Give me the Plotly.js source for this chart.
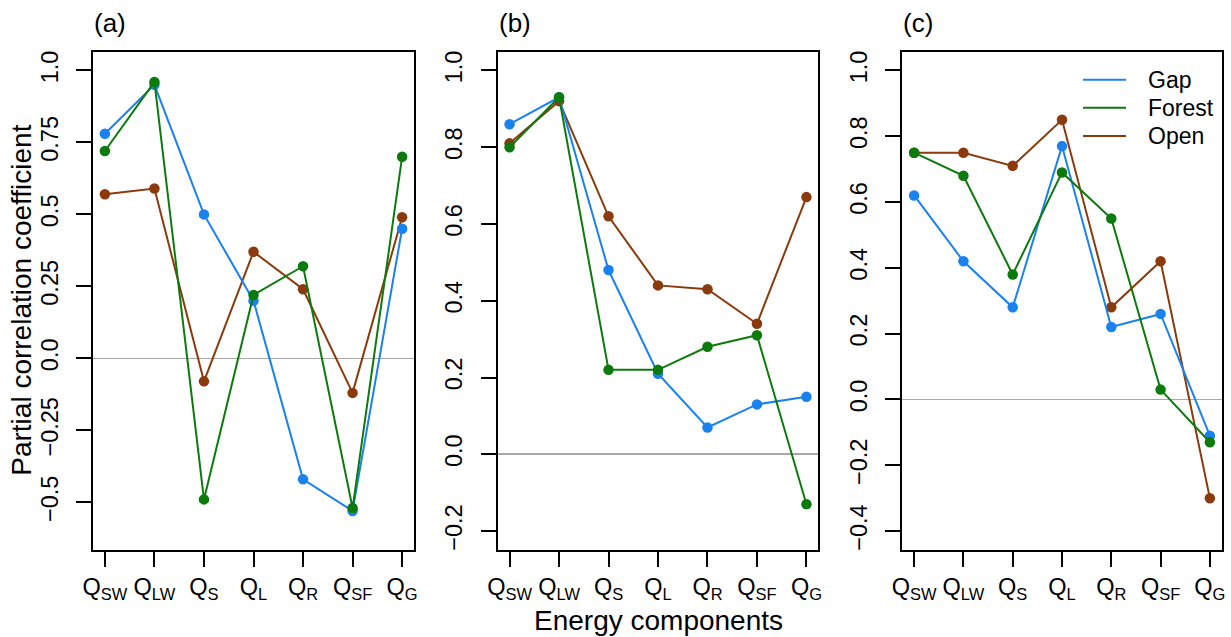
<!DOCTYPE html>
<html>
<head>
<meta charset="utf-8">
<script src="https://cdn.plot.ly/plotly-3.0.1.min.js"></script>
<style>html,body{margin:0;padding:0;background:#fff;}#chart{width:1231px;height:637px;}</style>
</head>
<body>
<div id="chart"></div>
<script>
// ---- data ----
const categories = ['Q<sub>SW</sub>','Q<sub>LW</sub>','Q<sub>S</sub>','Q<sub>L</sub>','Q<sub>R</sub>','Q<sub>SF</sub>','Q<sub>G</sub>'];
const seriesNames = ['Gap','Forest','Open'];
const panelLabels = ['(a)','(b)','(c)'];

const gapA    = [0.78, 0.95, 0.50, 0.20, -0.42, -0.53, 0.45];
const forestA = [0.72, 0.96, -0.49, 0.22, 0.32, -0.52, 0.70];
const openA   = [0.57, 0.59, -0.08, 0.37, 0.24, -0.12, 0.49];

const gapB    = [0.86, 0.93, 0.48, 0.21, 0.07, 0.13, 0.15];
const forestB = [0.80, 0.93, 0.22, 0.22, 0.28, 0.31, -0.13];
const openB   = [0.81, 0.92, 0.62, 0.44, 0.43, 0.34, 0.67];

const gapC    = [0.62, 0.42, 0.28, 0.77, 0.22, 0.26, -0.11];
const forestC = [0.75, 0.68, 0.38, 0.69, 0.55, 0.03, -0.13];
const openC   = [0.75, 0.75, 0.71, 0.85, 0.28, 0.42, -0.30];

const yTickValsA = [-0.5, -0.25, 0, 0.25, 0.5, 0.75, 1.0];
const yTickTextA = ['\u22120.5', '\u22120.25', '0.0', '0.25', '0.5', '0.75', '1.0'];
const yTickValsB = [-0.2, 0, 0.2, 0.4, 0.6, 0.8, 1.0];
const yTickTextB = ['\u22120.2', '0.0', '0.2', '0.4', '0.6', '0.8', '1.0'];
const yTickValsC = [-0.4, -0.2, 0, 0.2, 0.4, 0.6, 0.8, 1.0];
const yTickTextC = ['\u22120.4', '\u22120.2', '0.0', '0.2', '0.4', '0.6', '0.8', '1.0'];
const yLimA = [-0.6, 1.0];
const yLimB = [-0.2, 1.0];
const yLimC = [-0.4, 1.0];

// ---- style ----
const colors = { Gap: '#1a82ee', Forest: '#0c7a0c', Open: '#8a3a0c' };
const FONT = '"Liberation Sans", Arial, Helvetica, sans-serif';
const W = 1231, H = 637;
const px = v => v / W, py = v => 1 - v / H;
const TICK_FONT = 23.5;

const panels = [
  { gap: gapA, forest: forestA, open: openA, lim: yLimA, tv: yTickValsA, tt: yTickTextA, x0: 93, x1: 414 },
  { gap: gapB, forest: forestB, open: openB, lim: yLimB, tv: yTickValsB, tt: yTickTextB, x0: 497.7, x1: 818.3 },
  { gap: gapC, forest: forestC, open: openC, lim: yLimC, tv: yTickValsC, tt: yTickTextC, x0: 902.3, x1: 1221.7 }
];

function ext(lim) { const d = (lim[1] - lim[0]) * 0.04; return [lim[0] - d, lim[1] + d]; }

const traces = [];
const layout = {
  width: W, height: H,
  margin: { l: 0, r: 0, t: 0, b: 0 },
  paper_bgcolor: '#fff', plot_bgcolor: '#fff',
  font: { family: FONT, color: '#000', size: 22 },
  showlegend: false,
  annotations: [],
  shapes: [],
  hovermode: false
};

panels.forEach((p, i) => {
  const sx = i === 0 ? '' : String(i + 1);
  const xa = 'x' + sx, ya = 'y' + sx;
  [['Open', p.open], ['Gap', p.gap], ['Forest', p.forest]].forEach(([name, vals]) => {
    traces.push({
      x: categories, y: vals, xaxis: xa, yaxis: ya, type: 'scatter', mode: 'lines+markers',
      name: name, showlegend: false,
      line: { color: colors[name], width: 2 },
      marker: { color: colors[name], size: 10.5 }
    });
  });
  layout['xaxis' + sx] = {
    domain: [px(p.x0), px(p.x1)], anchor: ya, type: 'category',
    range: [-0.24, categories.length - 1 + 0.24],
    showgrid: false, zeroline: false,
    showline: true, mirror: true, linecolor: '#000', linewidth: 2,
    ticks: 'outside', ticklen: 15, tickwidth: 2, tickcolor: '#000',
    tickfont: { family: FONT, size: TICK_FONT, color: '#000' },
    ticklabelstandoff: 0, fixedrange: true
  };
  layout['yaxis' + sx] = {
    domain: [py(549.5), py(52)], anchor: xa,
    range: ext(p.lim),
    tickvals: p.tv, ticktext: p.tt, tickangle: -90,
    showgrid: false,
    zeroline: true, zerolinecolor: '#a8a8a8', zerolinewidth: 1.6,
    showline: true, mirror: true, linecolor: '#000', linewidth: 2,
    ticks: 'outside', ticklen: 15, tickwidth: 2, tickcolor: '#000',
    tickfont: { family: FONT, size: TICK_FONT, color: '#000' },
    ticklabelstandoff: 9, fixedrange: true
  };
  layout.annotations.push({
    text: panelLabels[i], xref: 'paper', yref: 'paper',
    x: px(p.x0 - 1), y: py(23), xanchor: 'left', yanchor: 'middle',
    showarrow: false, font: { family: FONT, size: 26, color: '#000' }
  });
});

// legend drawn in panel (c), lines only as in the reference
const legendRowsY = [79.7, 107.7, 136];
seriesNames.forEach((name, k) => {
  layout.shapes.push({
    type: 'line', xref: 'paper', yref: 'paper',
    x0: px(1083), x1: px(1126), y0: py(legendRowsY[k]), y1: py(legendRowsY[k]),
    line: { color: colors[name], width: 2 }
  });
  layout.annotations.push({
    text: name, xref: 'paper', yref: 'paper',
    x: px(1146), y: py(legendRowsY[k]), xanchor: 'left', yanchor: 'middle',
    showarrow: false, font: { family: FONT, size: 23, color: '#000' }
  });
});

layout.annotations.push({
  text: 'Partial correlation coefficient', xref: 'paper', yref: 'paper',
  x: px(22), y: py(300.75), xanchor: 'center', yanchor: 'middle', textangle: -90,
  showarrow: false, font: { family: FONT, size: 28, color: '#000' }
});
layout.annotations.push({
  text: 'Energy components', xref: 'paper', yref: 'paper',
  x: px(658), y: py(620), xanchor: 'center', yanchor: 'middle',
  showarrow: false, font: { family: FONT, size: 28, color: '#000' }
});

Plotly.newPlot('chart', traces, layout, { displayModeBar: false, staticPlot: true });
</script>
</body>
</html>
